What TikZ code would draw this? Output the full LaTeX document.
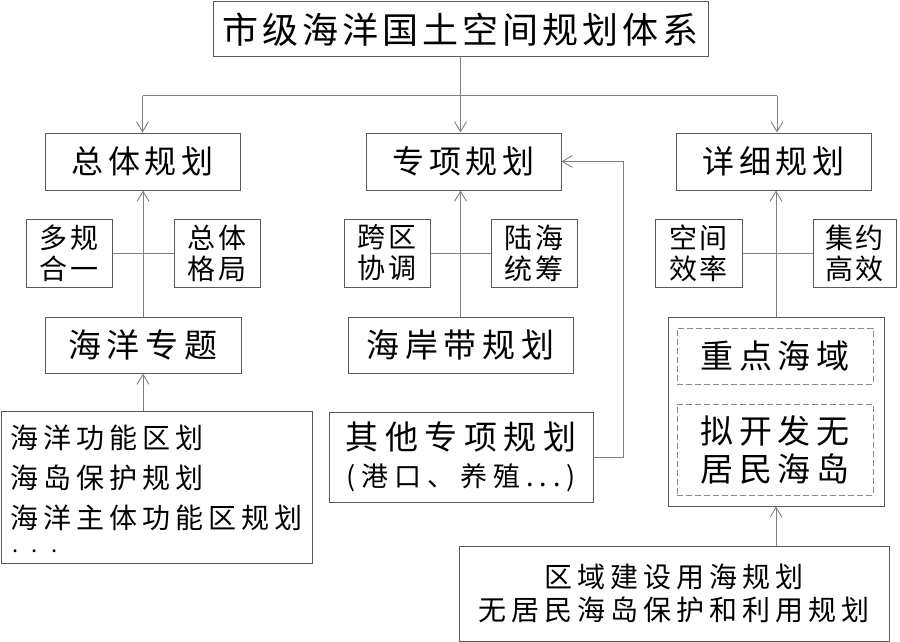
\documentclass[tikz,border=0pt]{standalone}
\usepackage{fontspec}
\usetikzlibrary{arrows.meta}
\newfontfamily\cjk{Noto Sans CJK SC}
\newcommand\fs[3]{\cjk\fontsize{#1}{#2}\selectfont\addfontfeatures{LetterSpace=#3}}
\definecolor{lc}{HTML}{808080}
\definecolor{bc}{HTML}{5A5A5A}
\definecolor{dc}{HTML}{8A8A8A}
\begin{document}
\begin{tikzpicture}[x={(1pt,0)}, y={(0,-1pt)},
  box/.style={draw=bc, line width=1pt, inner sep=0pt, align=center, text=black},
  dbox/.style={draw=dc, line width=1pt, dash pattern=on 6pt off 3pt, inner sep=0pt, align=center, text=black},
  ln/.style={draw=lc, line width=1pt},
  arr/.style={ln, -{Straight Barb[length=10pt,width=12pt,line width=0.9pt]}},
  ftitle/.style={font={\fs{36}{40}{11}}},
  fhead/.style={font={\fs{32}{37}{15}}},
  fsmall/.style={font={\fs{28}{31}{10}}},
  fmid/.style={font={\fs{33}{38}{18}}},
  flist/.style={font={\fs{28}{40}{18}}},
  fbot/.style={font={\fs{28}{33}{18}}}]
\useasboundingbox[fill=white] (0,0) rectangle (900,642);

% boxes
\node[box, ftitle, minimum width=495pt, minimum height=55pt] (top) at (460.5,29.5) {市级海洋国土空间规划体系};
\node[box, fhead, minimum width=195pt, minimum height=57pt] (zt) at (142.5,161.5) {总体规划};
\node[box, fhead, minimum width=195pt, minimum height=57pt] (zx) at (463.5,161.5) {专项规划};
\node[box, fhead, minimum width=195pt, minimum height=57pt] (xx) at (773.5,161.5) {详细规划};

\node[box, fsmall, minimum width=86pt, minimum height=68pt] (dg) at (69,253) {多规\\合一};
\node[box, fsmall, minimum width=86pt, minimum height=68pt] (zg) at (217,253) {总体\\格局};
\node[box, fsmall, minimum width=86pt, minimum height=68pt] (kq) at (387,253) {跨区\\协调};
\node[box, fsmall, minimum width=86pt, minimum height=68pt] (lh) at (534,253) {陆海\\统筹};
\node[box, fsmall, minimum width=87pt, minimum height=68pt] (kj) at (698.5,253) {空间\\效率};
\node[box, fsmall, minimum width=83pt, minimum height=68pt] (jy) at (854.5,253) {集约\\高效};

\node[box, fmid, minimum width=196pt, minimum height=56pt] (hy) at (143,345) {海洋专题};
\node[box, fmid, minimum width=225pt, minimum height=56pt] (ha) at (460.5,345) {海岸带规划};

\node[box, minimum width=216pt, minimum height=189pt] (big) at (776,411.5) {};
\node[dbox, fmid, minimum width=196pt, minimum height=56pt] (zd) at (775,356) {重点海域};
\node[dbox, fmid, minimum width=196pt, minimum height=91pt] (nk) at (775,449.5) {拟开发无\\居民海岛};

\node[box, minimum width=311pt, minimum height=152pt] (list) at (156.5,487) {};
\node[flist, anchor=west, align=left, inner sep=0pt] (listtxt) at (10,478) {海洋功能区划\\海岛保护规划\\海洋主体功能区规划};
\node[font={\fs{22}{24}{62}}, anchor=base west, inner sep=0pt] (dots) at (12,552) {...};

\node[box, font={\fs{33}{37}{20}}, minimum width=264pt, minimum height=90pt] (qt) at (461,457) {其他专项规划\\{\fs{27}{37}{22}(港口、养殖...)}};

\node[box, fbot, minimum width=430pt, minimum height=95pt] (bot) at (674,593.5) {区域建设用海规划\\无居民海岛保护和利用规划};

% connectors
\coordinate (jl) at (142.5,96);
\coordinate (jr) at (777,96);
\draw[ln] (jl) -- (jr);
\draw[arr] (top.south) -- (top.south |- zx.north);
\draw[arr] (jl) -- (jl |- zt.north);
\draw[arr] (jr) -- (jr |- xx.north);

\draw[arr] (hy.north) -- (hy.north |- zt.south);
\draw[ln] (dg.east) -- (zg.west);
\draw[arr] (hy.south |- list.north) -- (hy.south);

\draw[arr] (ha.north) -- (ha.north |- zx.south);
\draw[ln] (kq.east) -- (lh.west);
\coordinate (fb) at (623,457);
\draw[arr] (qt.east) -- (fb) |- (zx.east);

\draw[arr] (big.north) -- (big.north |- xx.south);
\draw[ln] (kj.east) -- (jy.west);
\draw[arr] (bot.north -| big.south) -- (big.south);
\end{tikzpicture}
\end{document}
